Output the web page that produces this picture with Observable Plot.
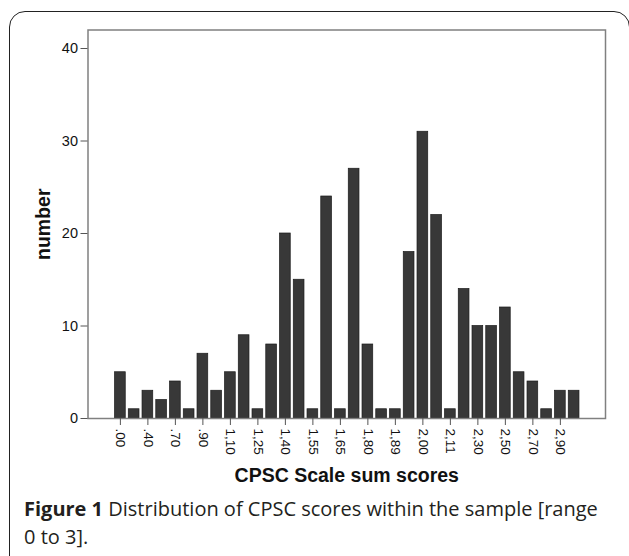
<!DOCTYPE html>
<html>
<head>
<meta charset="utf-8">
<script src="https://cdn.jsdelivr.net/npm/d3@7"></script>
<script src="https://cdn.jsdelivr.net/npm/@observablehq/plot@0.6"></script>
<style>
  html, body { margin: 0; padding: 0; background: #fff; width: 629px; height: 556px; overflow: hidden; }
  #box { position: absolute; left: 9px; top: 11px; width: 621px; height: 580px; border: 1.5px solid #222; border-radius: 16px; box-sizing: border-box; z-index: 5; pointer-events: none; }
  #chart { position: absolute; left: 0; top: 0; }
  #caption { position: absolute; left: 24px; top: 495px; width: 600px; font-family: "Open Sans", sans-serif; font-size: 20px; line-height: 28px; color: #231f20; white-space: nowrap; }
  #caption b { font-weight: 700; }
</style>
</head>
<body>
<div id="chart"></div>
<div id="caption"><b>Figure 1</b> Distribution of CPSC scores within the sample [range<br>0 to 3].</div>
<div id="box"></div>
<script>
const scores = [".00",".20",".40",".60",".70",".80",".90","1,00","1,10","1,20","1,25","1,30","1,40","1,50","1,55","1,60","1,65","1,70","1,80","1,85","1,89","1,90","2,00","2,10","2,11","2,20","2,30","2,40","2,50","2,60","2,70","2,80","2,90","3,00"];
const counts = [5,1,3,2,4,1,7,3,5,9,1,8,20,15,1,24,1,27,8,1,1,18,31,22,1,14,10,10,12,5,4,1,3,3];
const tickLabels = [".00",".40",".70",".90","1,10","1,25","1,40","1,55","1,65","1,80","1,89","2,00","2,11","2,30","2,50","2,70","2,90"];
const yTicks = [0,10,20,30,40];
const xTitle = "CPSC Scale sum scores";
const yTitle = "number";

const data = scores.map((s, i) => ({score: s, count: counts[i]}));

const chart = Plot.plot({
  width: 629,
  height: 490,
  marginLeft: 87.5,
  marginRight: 24,
  marginTop: 29.5,
  marginBottom: 72,
  style: {fontFamily: "'Liberation Sans', Arial, sans-serif", color: "#111", background: "transparent"},
  x: {type: "band", domain: scores, padding: 0.22, insetLeft: 24, insetRight: 23, round: false},
  y: {domain: [0, 42]},
  marks: [
    Plot.barY(data, {x: "score", y: "count", fill: "#383838", stroke: "#1c1c1c", strokeWidth: 0.7}),
    Plot.frame({stroke: "#808080", strokeWidth: 1.5}),
    Plot.axisY({ticks: yTicks, tickSize: 7, tickPadding: 3, fontSize: 14.5, stroke: "#555", label: null}),
    Plot.axisX({ticks: tickLabels, tickSize: 7, tickPadding: 3, tickRotate: 90, fontSize: 13.5, stroke: "#555", label: null}),
    Plot.text([xTitle], {frameAnchor: "bottom", dy: 63, fontSize: 19.5, fontWeight: "bold", fill: "#111"}),
    Plot.text([yTitle], {frameAnchor: "left", dx: -44.5, rotate: -90, textAnchor: "middle", fontSize: 19.5, fontWeight: "bold", fill: "#111"})
  ]
});
document.getElementById("chart").appendChild(chart);
</script>
</body>
</html>
